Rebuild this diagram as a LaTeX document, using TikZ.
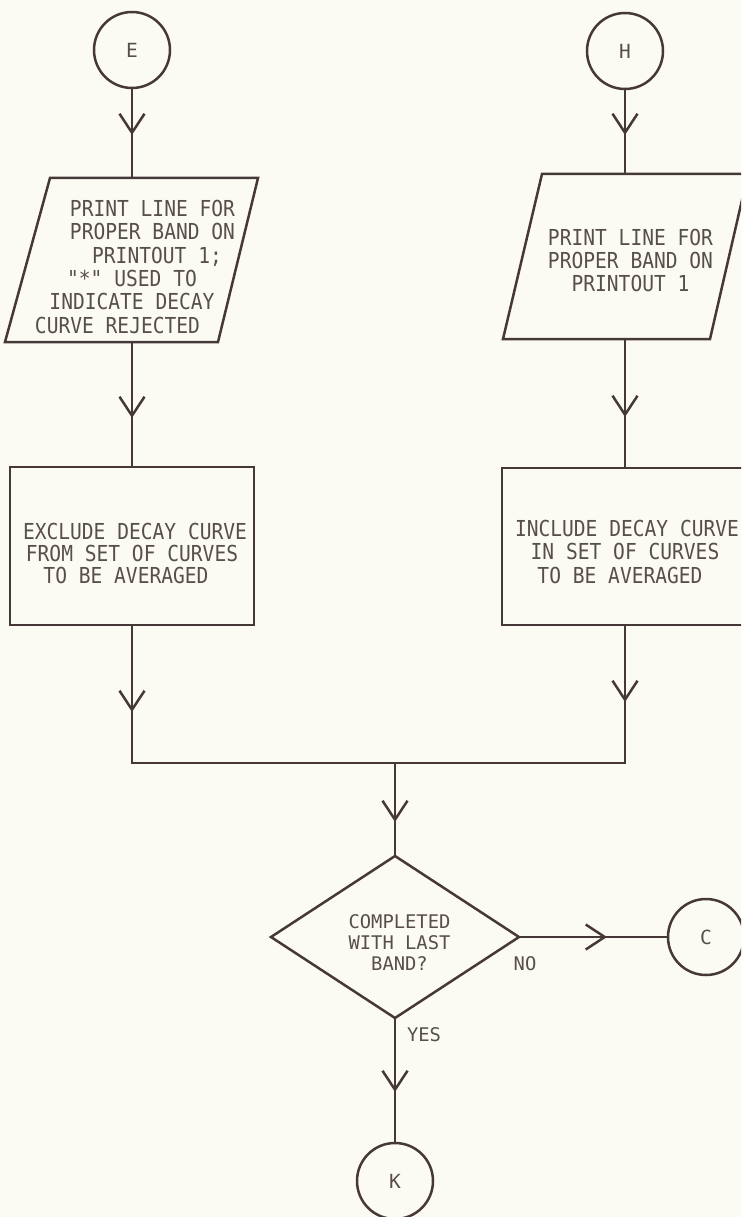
\documentclass[tikz,border=0pt]{standalone}
\usepackage{fontspec}
\usetikzlibrary{shapes.geometric,arrows.meta,decorations.markings,calc}
\newfontfamily\bigmono[FakeStretch=0.89,Ligatures=TeXOff]{DejaVu Sans Mono}
\newfontfamily\smallmono[Ligatures=TeXOff]{DejaVu Sans Mono}
\definecolor{ink}{RGB}{70,56,56}
\definecolor{txt}{RGB}{88,78,76}
\definecolor{paper}{RGB}{251,251,243}
\tikzset{
  flow/.style={draw=ink, line width=2.5pt, inner sep=0pt, outer sep=0pt},
  ghost/.style={inner sep=0pt, outer sep=0pt},
  conn/.style={ink, line width=2.5pt},
  tip at/.style={postaction={decorate}, decoration={markings,
      mark=at position #1 with {\arrow{Straight Barb[length=19pt,width=25pt]}}}},
  circ/.style={flow, circle, minimum size=76pt, text=txt,
      font=\smallmono\fontsize{19.5}{21}\selectfont},
  bigtext/.style={text=txt, align=center, inner sep=0pt,
      font=\bigmono\fontsize{22}{#1}\selectfont},
  smalltext/.style={text=txt, align=center, inner sep=0pt,
      font=\smallmono\fontsize{18.8}{21}\selectfont},
  outline/.style={ink, line width=2.5pt, line join=miter}
}
\begin{document}
\begin{tikzpicture}[x=1pt, y=-1pt]
\useasboundingbox (0,0) rectangle (741,1217);
\fill[paper] (0,0) rectangle (741,1217);
\clip (0,0) rectangle (741,1217);

% entry connectors
\node[circ] (e) at (132,50) {E};
\node[circ] (h) at (625,51) {H};

% output (parallelogram) blocks
\node[ghost, minimum width=210pt, minimum height=164pt,
  label={[bigtext=23.4pt, yshift=-6.8pt]center:{\hspace*{41pt}PRINT LINE FOR\\\hspace*{41pt}PROPER BAND ON\\\hspace*{50pt}PRINTOUT 1;\\"*" USED TO\hspace*{22pt}\\INDICATE DECAY\hspace*{12pt}\\CURVE REJECTED\hspace*{29pt}}}] (p1) at (132,260) {};
\draw[outline] ([xshift=23pt]p1.north west) -- ([xshift=21pt]p1.north east)
  -- ([xshift=-19pt]p1.south east) -- ([xshift=-22pt]p1.south west) -- cycle;

\node[ghost, minimum width=206pt, minimum height=165pt,
  label={[bigtext=23pt, xshift=5.5pt, yshift=-3.5pt]center:{PRINT LINE FOR\\PROPER BAND ON\\PRINTOUT 1}}] (p2) at (625,256.5) {};
\draw[outline] ([xshift=20pt]p2.north west) -- ([xshift=20pt]p2.north east)
  -- ([xshift=-18pt]p2.south east) -- ([xshift=-19pt]p2.south west) -- cycle;

% process boxes
\node[flow, minimum width=244pt, minimum height=158pt,
  label={[bigtext=21.8pt, yshift=-7.5pt]center:{\hspace*{6pt}EXCLUDE DECAY CURVE\\FROM SET OF CURVES\\TO BE AVERAGED\hspace*{12pt}}}] (b1) at (132,546) {};
\node[flow, minimum width=246pt, minimum height=157pt,
  label={[bigtext=23.5pt, yshift=-5.2pt]center:{\hspace*{4pt}INCLUDE DECAY CURVE\\IN SET OF CURVES\hspace*{12pt}\\TO BE AVERAGED\hspace*{10pt}}}] (b2) at (625,546.5) {};

% junction
\coordinate (j) at (395,763);

% decision
\node[flow, diamond, minimum width=248pt, minimum height=162pt,
  label={[smalltext, xshift=4.5pt, yshift=-5.7pt]center:{COMPLETED\\WITH LAST\\BAND?}}] (d) at (395,937) {};

% exit connectors
\node[circ] (c) at (706,937) {C};
\node[circ] (k) at (395,1181) {K};

% branch labels
\node[smalltext] (no) at (525,964) {NO};
\node[smalltext] (yes) at (424,1035) {YES};

% connectors
\draw[conn, tip at=47pt] (e) -- (p1);
\draw[conn, tip at=46pt] (h) -- (p2);
\draw[conn, tip at=76pt] (p1) -- (b1);
\draw[conn, tip at=78pt] (p2) -- (b2);
\draw[conn, tip at=87pt] (b1) |- (j);
\draw[conn, tip at=77pt] (b2) |- (j);
\draw[conn, tip at=59pt] (j) -- (d);
\draw[conn, tip at=88pt] (d) -- (c);
\draw[conn, tip at=74pt] (d) -- (k);
\end{tikzpicture}
\end{document}
